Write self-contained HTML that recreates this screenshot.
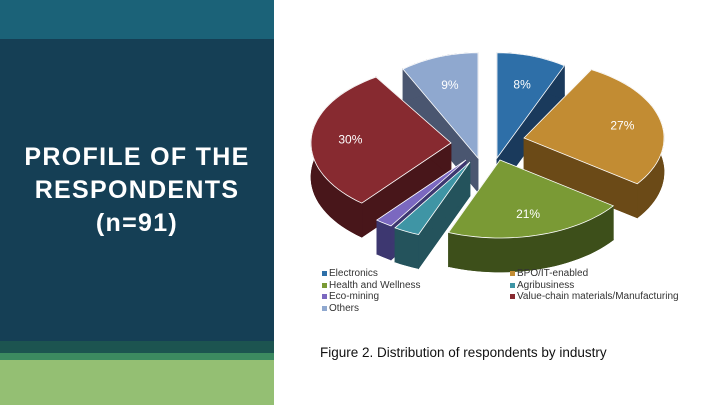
<!DOCTYPE html>
<html><head><meta charset="utf-8"><style>
body{margin:0;width:720px;height:405px;overflow:hidden;background:#fff;font-family:"Liberation Sans",sans-serif;position:relative}
.band{position:absolute;left:0;width:274px}
#title{position:absolute;left:0;width:274px;top:141px;text-align:center;color:#fff;font-weight:bold;font-size:25px;letter-spacing:1.3px;line-height:33px}
.leg{position:absolute;font-size:10px;color:#333;display:flex;align-items:center;white-space:nowrap}
.leg i{display:inline-block;width:5px;height:5px;margin-right:2px}
#cap{position:absolute;left:320px;top:345px;font-size:13.5px;color:#111}
</style></head><body>
<div class="band" style="top:0;height:39px;background:#1b6278"></div>
<div class="band" style="top:39px;height:302px;background:#153f55"></div>
<div class="band" style="top:341px;height:12px;background:#1c5450"></div>
<div class="band" style="top:353px;height:7px;background:#3c8a60"></div>
<div class="band" style="top:360px;height:45px;background:#94bf73"></div>
<div id="title">PROFILE OF THE<br>RESPONDENTS<br>(n=91)</div>
<svg id="pie" width="720" height="405" style="position:absolute;left:0;top:0"></svg>
<div id="legend"></div>
<div id="cap">Figure 2. Distribution of respondents by industry</div>
<script>
const categories=["Electronics","BPO/IT-enabled","Health and Wellness","Agribusiness","Eco-mining","Value-chain materials/Manufacturing","Others"];
const values=[8,27,21,3,2,30,9];
const topColors=["#2e6fa8","#c28c33","#7a9a35","#3f95a5","#7b68c0","#872a30","#8fa8cf"];
const sideColors=["#1a3a5c","#6b4a17","#3d4f1a","#24535c","#3d3770","#48161a","#4a5670"];
const apexes=[[497,158],[524,138],[500,160],[470,162],[466,160],[451,143],[478,158]];
const ryScale=[1.35,1,1,1,1,1,1.35];
const rx=140,ry=78,depth=34;
const NS="http://www.w3.org/2000/svg";
const svg=document.getElementById('pie');
const total=values.reduce((a,b)=>a+b,0);
let curScale=1;
function pt(a,ang,dy){return [a[0]+rx*Math.sin(ang),a[1]-ry*curScale*Math.cos(ang)+(dy||0)];}
function arcPts(a,s,e,dy){const n=Math.max(2,Math.ceil((e-s)/0.05));const r=[];for(let i=0;i<=n;i++)r.push(pt(a,s+(e-s)*i/n,dy));return r;}
function poly(points,fill,name){const p=document.createElementNS(NS,'path');
p.setAttribute('d','M'+points.map(q=>q[0].toFixed(1)+','+q[1].toFixed(1)).join('L')+'Z');
p.setAttribute('fill',fill);p.setAttribute('stroke',fill);p.setAttribute('stroke-width','0.6');


svg.appendChild(p);return p;}
let cum=0;const slices=[];
values.forEach((v,i)=>{const s=cum/total*2*Math.PI;cum+=v;const e=cum/total*2*Math.PI;slices.push({i,s,e,m:(s+e)/2});});
const order=slices.slice().sort((a,b)=>Math.cos(b.m)-Math.cos(a.m));
order.forEach(sl=>{const a=apexes[sl.i];const sc=sideColors[sl.i];curScale=ryScale[sl.i];
  const top=[a].concat(arcPts(a,sl.s,sl.e,0));
  const bot=top.map(q=>[q[0],q[1]+depth]);
  poly(bot,sc,'slice-bottom-'+sl.i);
  const ps=pt(a,sl.s,0),pe=pt(a,sl.e,0);
  poly([a,ps,[ps[0],ps[1]+depth],[a[0],a[1]+depth]],sc,'slice-wall-start-'+sl.i);
  poly([a,pe,[pe[0],pe[1]+depth],[a[0],a[1]+depth]],sc,'slice-wall-end-'+sl.i);
  const arcT=arcPts(a,sl.s,sl.e,0),arcB=arcPts(a,sl.s,sl.e,depth).reverse();
  poly(arcT.concat(arcB),sc,'slice-outer-wall-'+sl.i);
  const t=poly(top,topColors[sl.i],'slice-top-'+sl.i);
  t.setAttribute('stroke','#fff');t.setAttribute('stroke-width','0.8');
});
slices.forEach(sl=>{if(values[sl.i]<5)return;const a=apexes[sl.i];curScale=ryScale[sl.i];
  const x=a[0]+0.72*rx*Math.sin(sl.m),y=a[1]-0.72*ry*curScale*Math.cos(sl.m)+4;
  const t=document.createElementNS(NS,'text');t.setAttribute('x',x.toFixed(1));t.setAttribute('y',y.toFixed(1));
  t.setAttribute('text-anchor','middle');t.setAttribute('fill','#fff');t.setAttribute('font-size','12');
  t.setAttribute('font-family','Liberation Sans, sans-serif');
  t.textContent=Math.round(values[sl.i]/total*100)+'%';
  
  
  svg.appendChild(t);});
const lg=document.getElementById('legend');
categories.forEach((c,i)=>{const d=document.createElement('div');d.className='leg';
  d.style.left=(i%2?510:322)+'px';d.style.top=(268+Math.floor(i/2)*11.7)+'px';
  d.innerHTML='<i style="background:'+topColors[i]+'"></i>'+c;
  
  
  lg.appendChild(d);});
</script>
</body></html>
